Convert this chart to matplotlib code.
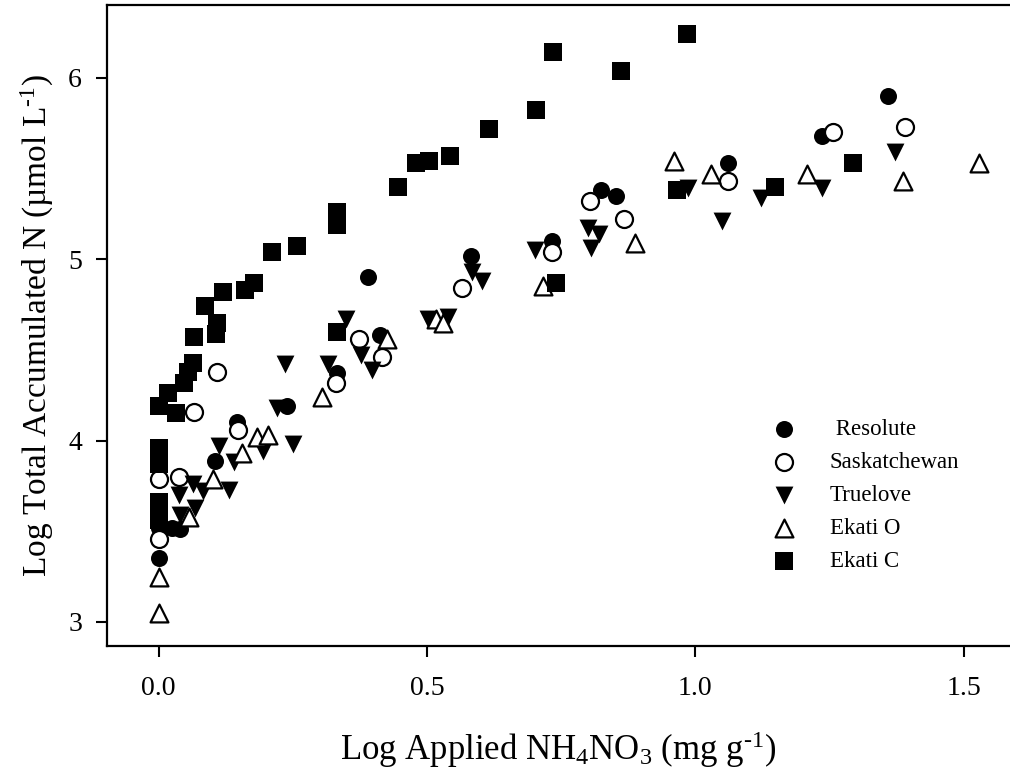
import numpy as np
import matplotlib
matplotlib.use("Agg")
import matplotlib.pyplot as plt

plt.rcParams['font.family'] = ['Liberation Serif', 'DejaVu Serif']
plt.rcParams['mathtext.fontset'] = 'custom'
plt.rcParams['mathtext.rm'] = 'Liberation Serif'
plt.rcParams['mathtext.it'] = 'Liberation Serif:italic'

# data (log applied NH4NO3, log total accumulated N)
resolute_x = [0.0, 0.0, 0.025, 0.04, 0.105, 0.146, 0.239, 0.332, 0.412, 0.390,
              0.582, 0.733, 0.824, 0.852, 1.061, 1.236, 1.358]
resolute_y = [3.35, 3.52, 3.52, 3.51, 3.89, 4.10, 4.19, 4.37, 4.58, 4.90,
              5.02, 5.10, 5.38, 5.35, 5.53, 5.68, 5.90]

sask_x = [0.0, 0.0, 0.038, 0.066, 0.109, 0.148, 0.331, 0.373, 0.416, 0.565,
          0.733, 0.804, 0.867, 1.061, 1.256, 1.390]
sask_y = [3.79, 3.46, 3.80, 4.16, 4.38, 4.06, 4.32, 4.56, 4.46, 4.84,
          5.04, 5.32, 5.22, 5.43, 5.70, 5.73]

truelove_x = [0.038, 0.064, 0.083, 0.068, 0.040, 0.131, 0.113, 0.141, 0.195,
              0.250, 0.221, 0.236, 0.316, 0.349, 0.377, 0.398, 0.502, 0.539,
              0.584, 0.602, 0.701, 0.800, 0.820, 0.805, 0.986, 1.049, 1.122,
              1.236, 1.371]
truelove_y = [3.70, 3.76, 3.72, 3.63, 3.59, 3.73, 3.97, 3.88, 3.94,
              3.98, 4.18, 4.42, 4.42, 4.67, 4.47, 4.39, 4.67, 4.68,
              4.93, 4.88, 5.05, 5.17, 5.14, 5.06, 5.39, 5.21, 5.34,
              5.39, 5.59]

ekatio_x = [0.0, 0.0, 0.057, 0.101, 0.156, 0.183, 0.204, 0.304, 0.426, 0.517,
            0.530, 0.716, 0.887, 0.960, 1.029, 1.208, 1.387, 1.528]
ekatio_y = [3.25, 3.05, 3.58, 3.79, 3.93, 4.02, 4.03, 4.24, 4.56, 4.67,
            4.65, 4.85, 5.09, 5.54, 5.47, 5.47, 5.43, 5.53]

ekatic_x = [0.0, 0.0, 0.0, 0.0, 0.0, 0.018, 0.033, 0.047, 0.055, 0.064, 0.066,
            0.087, 0.107, 0.109, 0.120, 0.161, 0.178, 0.211, 0.258, 0.332,
            0.332, 0.332, 0.446, 0.480, 0.504, 0.543, 0.615, 0.703, 0.735,
            0.861, 0.984, 0.740, 0.965, 1.148, 1.293]
ekatic_y = [4.19, 3.96, 3.87, 3.66, 3.56, 4.26, 4.15, 4.32, 4.38, 4.43, 4.57,
            4.74, 4.59, 4.65, 4.82, 4.83, 4.87, 5.04, 5.07, 5.26,
            5.19, 4.60, 5.40, 5.53, 5.54, 5.57, 5.72, 5.82, 6.14,
            6.04, 6.24, 4.87, 5.38, 5.40, 5.53]

fig = plt.figure(figsize=(10.1, 7.82), dpi=100)
ax = fig.add_axes([0.106, 0.174, 0.894, 0.82])

ms = 150
h1 = ax.scatter(resolute_x, resolute_y, s=ms, marker='o', c='black', linewidths=0)
h2 = ax.scatter(sask_x, sask_y, s=ms, marker='o', facecolors='white', edgecolors='black', linewidths=1.6)
h3 = ax.scatter(truelove_x, truelove_y, s=ms * 1.1, marker='v', c='black', linewidths=0)
h4 = ax.scatter(ekatio_x, ekatio_y, s=ms * 1.1, marker='^', facecolors='white', edgecolors='black', linewidths=1.6)
h5 = ax.scatter(ekatic_x, ekatic_y, s=ms * 1.0, marker='s', c='black', linewidths=0)

ax.set_xlim(-0.096, 1.586)
ax.set_ylim(2.868, 6.403)
ax.set_xticks([0.0, 0.5, 1.0, 1.5])
ax.set_xticklabels(['0.0', '0.5', '1.0', '1.5'])
ax.set_yticks([3, 4, 5, 6])
ax.tick_params(direction='out', length=8, width=1.5, labelsize=20)
ax.tick_params(axis='x', pad=14)
ax.tick_params(axis='y', pad=10)
ax.spines['right'].set_visible(False)
for sp in ['left', 'bottom', 'top']:
    ax.spines[sp].set_linewidth(1.6)

ax.set_xlabel('Log Applied NH$_4$NO$_3$ (mg g$^{\\text{-1}}$)', fontsize=25, labelpad=20)
ax.set_ylabel('Log Total Accumulated N (\u00b5mol L$^{\\text{-1}}$)', fontsize=24, labelpad=9)

ax.legend([h1, h2, h3, h4, h5], [' Resolute', 'Saskatchewan', 'Truelove', 'Ekati O', 'Ekati C'],
          loc='upper left', bbox_to_anchor=(0.724, 0.372), frameon=False, fontsize=16.5,
          handlelength=1.0, handletextpad=1.5, labelspacing=0.52, borderpad=0)

fig.savefig('out.png', dpi=100)
